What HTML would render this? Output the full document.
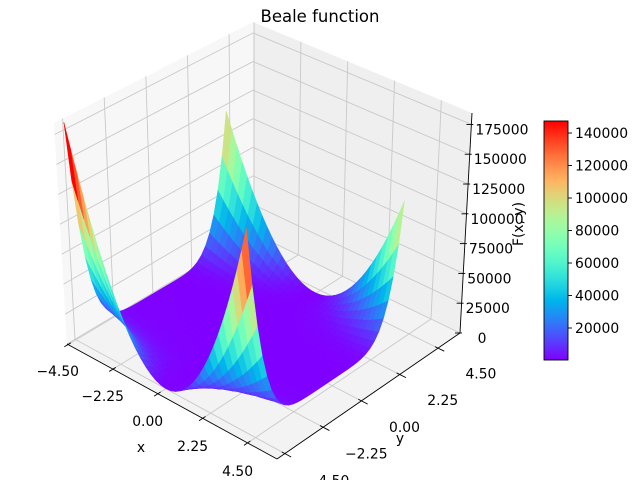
<!DOCTYPE html>
<html><head><meta charset="utf-8"><style>
html,body{margin:0;padding:0;background:#fff;}
svg{display:block;font-family:"DejaVu Sans","Liberation Sans",sans-serif;}
</style></head><body>
<svg id="chart" width="640" height="480" viewBox="0 0 640 480" xmlns="http://www.w3.org/2000/svg">
<text x="320" y="22" font-size="16.5" text-anchor="middle">Beale function</text>
<g id="panes"></g>
<g id="grid"></g>
<g id="surface"></g>
<g id="axes"></g>
<g id="cbar"></g>
</svg>
<script>
const xTicks=[-4.5,-2.25,0,2.25,4.5];
const yTicks=[-4.5,-2.25,0,2.25,4.5];
const zTicks=[0,25000,50000,75000,100000,125000,150000,175000];
const cbTicks=[20000,40000,60000,80000,100000,120000,140000];
const xGrid=[-4.5,-4.25,-4,-3.75,-3.5,-3.25,-3,-2.75,-2.5,-2.25,-2,-1.75,-1.5,-1.25,-1,-0.75,-0.5,-0.25,0,0.25,0.5,0.75,1,1.25,1.5,1.75,2,2.25,2.5,2.75,3,3.25,3.5,3.75,4,4.25];
const yGrid=[-4.5,-4.25,-4,-3.75,-3.5,-3.25,-3,-2.75,-2.5,-2.25,-2,-1.75,-1.5,-1.25,-1,-0.75,-0.5,-0.25,0,0.25,0.5,0.75,1,1.25,1.5,1.75,2,2.25,2.5,2.75,3,3.25,3.5,3.75,4,4.25];
const zMax=184600;
const NS="http://www.w3.org/2000/svg";
function beale(x,y){return Math.pow(1.5-x+x*y,2)+Math.pow(2.25-x+x*y*y,2)+Math.pow(2.625-x+x*y*y*y,2);}
const L0=[67,344],F0=[277,459],R0=[460,333],B0=[253,233];
const L1=[54,123],F1=[273,214],R1=[472,113],B1=[253,22];
function bil(A,B,C,D,u,v){return [(1-u)*(1-v)*A[0]+u*(1-v)*B[0]+u*v*C[0]+(1-u)*v*D[0],(1-u)*(1-v)*A[1]+u*(1-v)*B[1]+u*v*C[1]+(1-u)*v*D[1]];}
function proj(u,v,w){const a=bil(L0,F0,R0,B0,u,v),b=bil(L1,F1,R1,B1,u,v);return [a[0]+(b[0]-a[0])*w,a[1]+(b[1]-a[1])*w];}
function ux(x){return 0.005+(x+4.5)*0.095;}
function vy(y){return 0.043+(y+4.5)*0.093;}
function wz(z){return z/zMax;}
function rainbow(t){t=Math.max(0,Math.min(1,t));
 const c=v=>Math.round(255*Math.max(0,Math.min(1,v)));
 return "rgb("+c(Math.abs(2*t-0.5))+","+c(Math.sin(Math.PI*t))+","+c(Math.cos(Math.PI*t/2))+")";}
function el(tag,attrs,parent){const e=document.createElementNS(NS,tag);for(const k in attrs)e.setAttribute(k,attrs[k]);parent.appendChild(e);return e;}
function pts(a){return a.map(p=>p[0].toFixed(2)+","+p[1].toFixed(2)).join(" ");}
const panes=document.getElementById('panes');
let p;
p=el('polygon',{points:pts([L0,F0,R0,B0]),fill:'#f3f3f3'},panes);


p=el('polygon',{points:pts([L0,L1,B1,B0]),fill:'#f7f7f7'},panes);


p=el('polygon',{points:pts([B0,B1,R1,R0]),fill:'#efefef'},panes);


const grid=document.getElementById('grid');
function gline(a,b,name){const l=el('line',{x1:a[0],y1:a[1],x2:b[0],y2:b[1],stroke:'#c9c9c9','stroke-width':0.9},grid);
 
 }
xTicks.forEach(t=>{gline(proj(ux(t),0,0),proj(ux(t),1,0),'floor-grid-x');gline(proj(ux(t),1,0),proj(ux(t),1,1),'back-grid-x');});
yTicks.forEach(t=>{gline(proj(0,vy(t),0),proj(1,vy(t),0),'floor-grid-y');gline(proj(0,vy(t),0),proj(0,vy(t),1),'left-grid-y');});
zTicks.forEach(t=>{gline(proj(0,0,wz(t)),proj(0,1,wz(t)),'left-grid-z');gline(proj(0,1,wz(t)),proj(1,1,wz(t)),'back-grid-z');});
const Z=yGrid.map(y=>xGrid.map(x=>beale(x,y)));
const faces=[];let fmin=Infinity,fmax=-Infinity;
for(let j=0;j<yGrid.length-1;j++)for(let i=0;i<xGrid.length-1;i++){
 const avg=(Z[j][i]+Z[j][i+1]+Z[j+1][i]+Z[j+1][i+1])/4;
 fmin=Math.min(fmin,avg);fmax=Math.max(fmax,avg);
 const cu=ux((xGrid[i]+xGrid[i+1])/2),cv=vy((yGrid[j]+yGrid[j+1])/2);
 const depth=0.45*cu-0.75*cv+0.5*wz(avg);
 faces.push({i,j,avg,depth});}
faces.sort((a,b)=>a.depth-b.depth);
const surf=document.getElementById('surface');
faces.forEach(f=>{const i=f.i,j=f.j;
 const q=[proj(ux(xGrid[i]),vy(yGrid[j]),wz(Z[j][i])),proj(ux(xGrid[i+1]),vy(yGrid[j]),wz(Z[j][i+1])),proj(ux(xGrid[i+1]),vy(yGrid[j+1]),wz(Z[j+1][i+1])),proj(ux(xGrid[i]),vy(yGrid[j+1]),wz(Z[j+1][i]))];
 const col=rainbow((f.avg-fmin)/(fmax-fmin));
 const poly=el('polygon',{points:pts(q),fill:col,stroke:col,'stroke-width':0.5,'stroke-linejoin':'round'},surf);
 
 });
const axes=document.getElementById('axes');
function aline(a,b,name,w){const l=el('line',{x1:a[0],y1:a[1],x2:b[0],y2:b[1],stroke:'#000','stroke-width':w||0.9},axes);
 
 return l;}
function txt(x,y,s,name,extra){const t=el('text',Object.assign({x:x,y:y,'font-size':13.9,'text-anchor':'middle'},extra||{}),axes);t.textContent=s;
 
 return t;}
aline(L0,F0,'x-axis-line');aline(F0,R0,'y-axis-line');aline(R0,R1,'z-axis-line');
function fmt(t){return (t<0?"\u2212":"")+Math.abs(t).toFixed(2);}
xTicks.forEach(t=>{aline(proj(ux(t),-0.02,0),proj(ux(t),0.015,0),'x-tick');
 const a=proj(ux(t),-0.12,0);txt(a[0]+12,a[1]+18,fmt(t),'x-tick-label');});
yTicks.forEach(t=>{aline(proj(0.985,vy(t),0),proj(1.03,vy(t),0),'y-tick');
 const a=proj(1.12,vy(t),0);txt(a[0]+18,a[1]+18,fmt(t),'y-tick-label');});
zTicks.forEach(t=>{const a=proj(1,1,wz(t));aline([a[0]-5,a[1]],[a[0]+2,a[1]],'z-tick');
 txt(a[0]+(t===0?22:4),a[1]+10,String(t),'z-tick-label',{'text-anchor':t===0?'middle':'start'});});
txt(141,452,'x','x-axis-title');
txt(400,443,'y','y-axis-title');
txt(0,0,'F(x, y)','z-axis-title',{transform:'translate(523,224) rotate(-90)'});
const cb=document.getElementById('cbar');
const cbX=544,cbY=121,cbW=24,cbH=239,cbMin=300,cbMax=147400;
const defs=el('defs',{},cb);
const grad=el('linearGradient',{id:'rb',x1:0,y1:1,x2:0,y2:0},defs);
for(let k=0;k<=20;k++)el('stop',{offset:(k/20),'stop-color':rainbow(k/20)},grad);
const rect=el('rect',{x:cbX,y:cbY,width:cbW,height:cbH,fill:'url(#rb)',stroke:'#000','stroke-width':0.9},cb);


cbTicks.forEach(t=>{const y=cbY+cbH*(1-(t-cbMin)/(cbMax-cbMin));
 const l=el('line',{x1:cbX+cbW,y1:y,x2:cbX+cbW+4,y2:y,stroke:'#000','stroke-width':0.9},cb);
 
 
 const tx=el('text',{x:cbX+cbW+7,y:y+5,'font-size':13.9},cb);tx.textContent=String(t);
 
 });
</script>
</body></html>
